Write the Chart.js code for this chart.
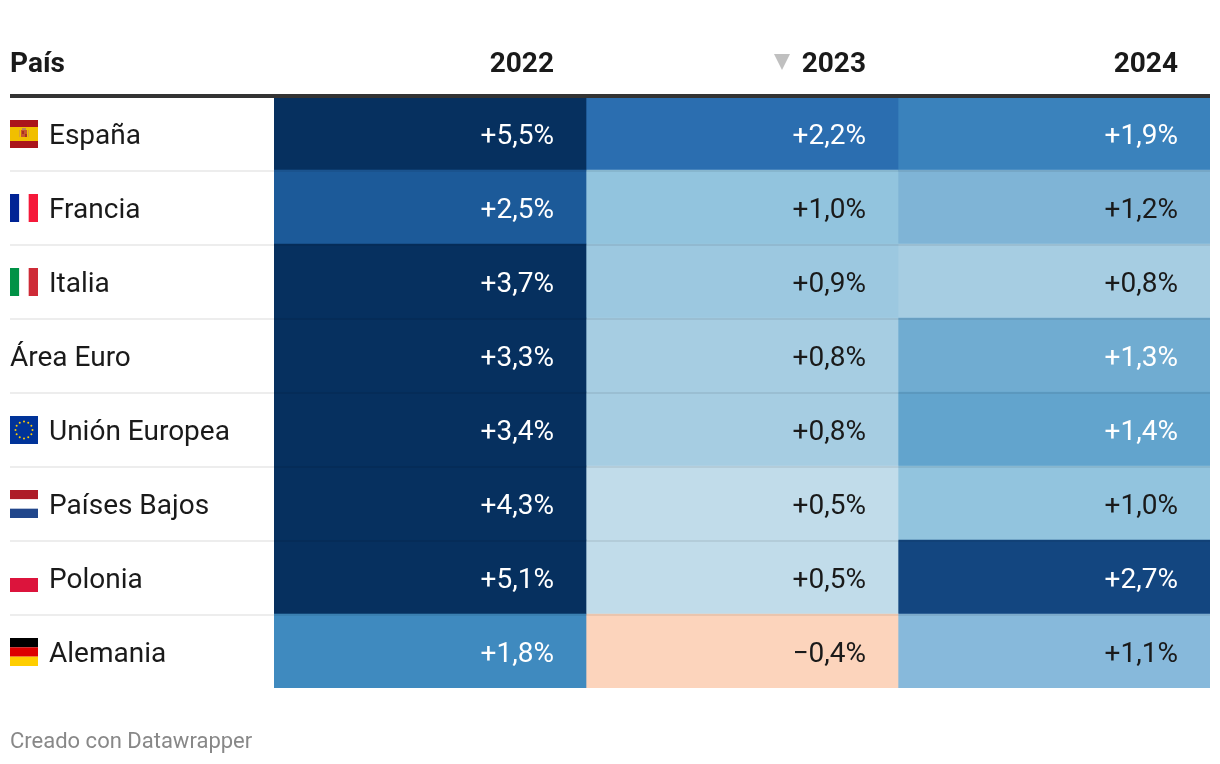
<!DOCTYPE html>
<html lang="es">
<head>
<meta charset="utf-8">
<title>Crecimiento por país</title>
<script src="https://cdn.jsdelivr.net/npm/chart.js@4"></script>
<style>
    html, body { margin: 0; padding: 0; background: #fff; }
    canvas { display: block; }
</style>
</head>
<body>
<canvas id="tabla" width="1220" height="764"></canvas>
<script>
// ==================== DATOS ====================
const paises = ['España', 'Francia', 'Italia', 'Área Euro', 'Unión Europea', 'Países Bajos', 'Polonia', 'Alemania'];
const anios = ['2022', '2023', '2024'];
const valores2022 = [5.5, 2.5, 3.7, 3.3, 3.4, 4.3, 5.1, 1.8];
const valores2023 = [2.2, 1.0, 0.9, 0.8, 0.8, 0.5, 0.5, -0.4];
const valores2024 = [1.9, 1.2, 0.8, 1.3, 1.4, 1.0, 2.7, 1.1];
const columnas = [valores2022, valores2023, valores2024];

// colores, por valor
const coloresPorValor = {
    '-0.4': '#fcd4bc', '0.5': '#c1dcea', '0.8': '#a6cde2', '0.9': '#9cc8e0',
    '1': '#92c4de', '1.1': '#87b9db', '1.2': '#7fb4d6', '1.3': '#70acd1',
    '1.4': '#62a4cd', '1.8': '#3f8abf', '1.9': '#3a82bc', '2.2': '#2b6eb0',
    '2.5': '#1c5a99', '2.7': '#134680'
};
const colorOscuro = '#06305f';

function colorCelda(v) {
    return coloresPorValor[String(v)] || colorOscuro;
}

function formatearValor(v) {
    return (v < 0 ? '\u2212' : '+') + Math.abs(v).toFixed(1).replace('.', ',');
}

// ==================== BANDERAS ====================
function franjasV(ctx, x, y, s, cols) {
    cols.forEach((c, i) => {
        ctx.fillStyle = c;
        ctx.fillRect(x + i * s / 3, y, s / 3, s);
    });
}

function franjasH(ctx, x, y, s, cols) {
    cols.forEach((c, i) => {
        ctx.fillStyle = c;
        ctx.fillRect(x, y + i * s / 3, s, s / 3);
    });
}

const banderas = {
    'España': (ctx, x, y, s) => {
        ctx.fillStyle = '#aa151b';
        ctx.fillRect(x, y, s, s);
        ctx.fillStyle = '#f1bf00';
        ctx.fillRect(x, y + s / 4, s, s / 2);
        // escudo
        ctx.fillStyle = '#d9a13a';
        ctx.fillRect(x + 9, y + 10, 1, 7);
        ctx.fillRect(x + 18, y + 10, 1, 7);
        ctx.fillStyle = '#c9572e';
        ctx.fillRect(x + 11, y + 10, 6, 7);
        ctx.fillStyle = '#a8331f';
        ctx.fillRect(x + 12, y + 11, 2, 3);
        ctx.fillRect(x + 15, y + 14, 2, 3);
        ctx.fillStyle = '#b98a5a';
        ctx.fillRect(x + 12, y + 8, 4, 2);
    },
    'Francia': (ctx, x, y, s) => franjasV(ctx, x, y, s, ['#002395', '#ffffff', '#f5193a']),
    'Italia': (ctx, x, y, s) => franjasV(ctx, x, y, s, ['#009246', '#ffffff', '#ce2b37']),
    'Unión Europea': (ctx, x, y, s) => {
        ctx.fillStyle = '#003399';
        ctx.fillRect(x, y, s, s);
        ctx.fillStyle = '#ffcc00';
        for (let i = 0; i < 12; i++) {
            const a = i * Math.PI / 6;
            ctx.beginPath();
            ctx.arc(x + s / 2 + Math.cos(a) * 8.5, y + s / 2 + Math.sin(a) * 8.5, 1, 0, Math.PI * 2);
            ctx.fill();
        }
    },
    'Países Bajos': (ctx, x, y, s) => franjasH(ctx, x, y, s, ['#ae1c28', '#ffffff', '#21468b']),
    'Polonia': (ctx, x, y, s) => {
        ctx.fillStyle = '#dc143c';
        ctx.fillRect(x, y + s / 2, s, s / 2);
    },
    'Alemania': (ctx, x, y, s) => franjasH(ctx, x, y, s, ['#000000', '#dd0000', '#ffce00'])
};

// ==================== TEXTOS Y LINEAS ====================
const textosTabla = {
    id: 'textosTabla',
    afterDatasetsDraw(chart) {
        const ctx = chart.ctx;
        const xs = chart.scales.x;
        const ys = chart.scales.y;
        const area = chart.chartArea;
        const izq = 10;
        const fuente = 'Roboto, sans-serif';

        ctx.save();

        // separadores de fila
        ctx.fillStyle = 'rgba(0,0,0,0.07)';
        paises.forEach((p, i) => {
            if (i === 0) return;
            const yTop = (ys.getPixelForValue(i - 1) + ys.getPixelForValue(i)) / 2;
            ctx.fillRect(izq, yTop, area.right - izq, 2);
        });

        // linea de cabecera
        ctx.fillStyle = '#333333';
        ctx.fillRect(izq, 94, area.right - izq, 4);

        // cabecera
        ctx.textBaseline = 'alphabetic';
        ctx.fillStyle = '#1a1a1a';
        ctx.font = '700 28px ' + fuente;
        ctx.textAlign = 'left';
        ctx.fillText('País', izq, 72);
        ctx.textAlign = 'right';
        anios.forEach((a, c) => {
            ctx.fillText(a, xs.getPixelForValue(c + 1) - 32, 72);
        });

        // triangulo de orden en 2023
        ctx.fillStyle = '#c0c0c0';
        ctx.beginPath();
        ctx.moveTo(774, 54);
        ctx.lineTo(790, 54);
        ctx.lineTo(782, 70);
        ctx.closePath();
        ctx.fill();

        // nombres y banderas
        paises.forEach((p, i) => {
            const y = ys.getPixelForValue(i) + 1;
            const bandera = banderas[p];
            if (bandera) bandera(ctx, izq, y - 14, 28);
            ctx.fillStyle = '#1a1a1a';
            ctx.font = '400 28px ' + fuente;
            ctx.textAlign = 'left';
            ctx.fillText(p, bandera ? 49 : izq, y + 10);
        });

        // valores de cada celda
        ctx.textAlign = 'right';
        ctx.font = '400 28px ' + fuente;
        columnas.forEach((valores, c) => {
            const meta = chart.getDatasetMeta(c);
            valores.forEach((v, i) => {
                const barra = meta.data[i];
                ctx.fillStyle = (v >= 1.3) ? '#ffffff' : '#1a1a1a';
                ctx.fillText(formatearValor(v) + '%', barra.x - 32, ys.getPixelForValue(i) + 11);
            });
        });

        // pie
        ctx.fillStyle = '#888888';
        ctx.font = '400 22px ' + fuente;
        ctx.textAlign = 'left';
        ctx.fillText('Creado con Datawrapper', izq, 748);

        ctx.restore();
    }
};

// ==================== GRAFICO ====================
new Chart(document.getElementById('tabla'), {
    type: 'bar',
    data: {
        labels: paises,
        datasets: columnas.map((valores, c) => ({
            label: anios[c],
            data: valores.map(() => 1),
            backgroundColor: valores.map(colorCelda),
            borderWidth: 0,
            barPercentage: 1,
            categoryPercentage: 1
        }))
    },
    options: {
        indexAxis: 'y',
        responsive: false,
        animation: false,
        layout: { padding: { left: 274, right: 10, top: 96, bottom: 76 } },
        plugins: {
            legend: { display: false },
            tooltip: { enabled: false }
        },
        scales: {
            x: { display: false, stacked: true, min: 0, max: 3 },
            y: { display: false, stacked: true }
        }
    },
    plugins: [textosTabla]
});
</script>
</body>
</html>
